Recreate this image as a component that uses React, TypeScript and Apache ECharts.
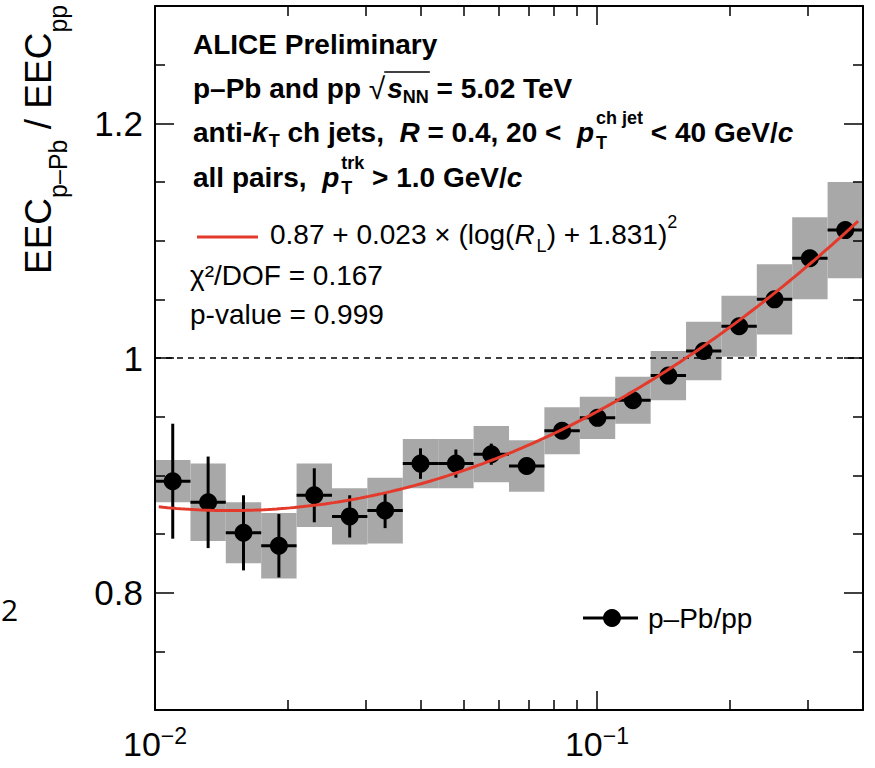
import React, { useEffect, useRef } from 'react';
import * as echarts from 'echarts';

// Bin edges in R_L (20 logarithmic bins from 0.01 to 0.4)
const binEdges = [
  0.01, 0.01203, 0.01446, 0.01739, 0.02091, 0.02515, 0.03024, 0.03637, 0.04373, 0.05259,
  0.06325, 0.07605, 0.09146, 0.11, 0.1323, 0.1591, 0.1913, 0.23, 0.2766, 0.3326, 0.4,
];
// EEC ratio p-Pb / pp per bin
const ratio = [
  0.895, 0.877, 0.851, 0.84, 0.883, 0.865, 0.87, 0.91, 0.91, 0.918,
  0.908, 0.938, 0.949, 0.964, 0.985, 1.006, 1.027, 1.05, 1.085, 1.109,
];
// statistical uncertainties (error bars)
const statErr = [
  0.049, 0.039, 0.032, 0.027, 0.023, 0.018, 0.015, 0.013, 0.012, 0.009,
  0.006, 0.005, 0.005, 0.005, 0.004, 0.004, 0.004, 0.004, 0.004, 0.004,
];
// systematic uncertainties (grey boxes)
const sysErr = [
  0.018, 0.033, 0.026, 0.028, 0.027, 0.024, 0.028, 0.021, 0.021, 0.024,
  0.022, 0.02, 0.018, 0.02, 0.021, 0.025, 0.026, 0.03, 0.035, 0.041,
];

// Fit parameters: 0.87 + 0.023 x (log(R_L) + 1.831)^2
const FIT_C0 = 0.87;
const FIT_C1 = 0.023;
const FIT_SHIFT = 1.831;
const fitRange = [0.0102, 0.39];

const xMajorTicks = [0.01, 0.1];
const xMinorTicks = [0.02, 0.03, 0.04, 0.05, 0.06, 0.07, 0.08, 0.09, 0.2, 0.3];
const yMajorTicks = [0.8, 1.0, 1.2];
const yMinorTicks = [0.75, 0.85, 0.9, 0.95, 1.05, 1.1, 1.15, 1.25];

const FONT = "'Liberation Sans', Arial, Helvetica, sans-serif";
const BOX_GREY = '#a8a8a8';
const FIT_RED = '#e43a2c';
const INK = '#000000';

// ln-based shift: log10 offset converted to natural log
const fitValue = (r: number) =>
  FIT_C0 + FIT_C1 * Math.pow(Math.log(r) + FIT_SHIFT * Math.LN10, 2);

let measureCtx: CanvasRenderingContext2D | null = null;
function textWidth(text: string, font: string): number {
  if (!measureCtx) measureCtx = document.createElement('canvas').getContext('2d');
  measureCtx!.font = font;
  return measureCtx!.measureText(text).width;
}

interface Seg {
  t: string;
  size: number;
  bold?: boolean;
  italic?: boolean;
  dy?: number;
  gap?: number;
  hold?: boolean; // next segment stacks on the same x position
}

function layoutRun(x0: number, y: number, segs: Seg[]) {
  const els: any[] = [];
  const spans: number[][] = [];
  let x = x0;
  let holdStart: number | null = null;
  let holdW = 0;
  for (const s of segs) {
    const font = `${s.italic ? 'italic ' : ''}${s.bold ? 'bold ' : ''}${s.size}px ${FONT}`;
    const w = textWidth(s.t, font);
    x += s.gap || 0;
    els.push({
      type: 'text',
      x,
      y: y + (s.dy || 0),
      silent: true,
      style: {
        text: s.t,
        fontSize: s.size,
        fontWeight: s.bold ? 'bold' : 'normal',
        fontStyle: s.italic ? 'italic' : 'normal',
        fontFamily: FONT,
        fill: INK,
        align: 'left',
        verticalAlign: 'middle',
      },
    });
    spans.push([x, x + w]);
    if (s.hold) {
      holdStart = x;
      holdW = w;
    } else if (holdStart !== null) {
      x = holdStart + Math.max(holdW, w);
      holdStart = null;
    } else {
      x += w;
    }
  }
  return { els, spans };
}

function buildGraphics() {
  const TX = 193;
  const B = 28;
  const S = 18;
  const line1 = layoutRun(TX, 44, [{ t: 'ALICE Preliminary', size: B, bold: true }]);
  const line2 = layoutRun(TX, 88, [
    { t: 'p–Pb and pp ', size: B, bold: true },
    { t: '√', size: 30 },
    { t: 's', size: B, bold: true, italic: true, gap: 2 },
    { t: 'NN', size: S, bold: true, dy: 9 },
    { t: ' = 5.02 TeV', size: B, bold: true },
  ]);
  const sq = line2.spans[1];
  const nn = line2.spans[3];
  const overbar = {
    type: 'line',
    silent: true,
    shape: { x1: sq[1] - 1, y1: 72, x2: nn[1] + 1, y2: 72 },
    style: { stroke: INK, lineWidth: 1.5 },
  };
  const line3 = layoutRun(TX, 132, [
    { t: 'anti-', size: B, bold: true },
    { t: 'k', size: B, bold: true, italic: true },
    { t: 'T', size: S, bold: true, dy: 9, gap: 1 },
    { t: ' ch jets,  ', size: B, bold: true },
    { t: 'R', size: B, bold: true, italic: true },
    { t: ' = 0.4, 20 <  ', size: B, bold: true },
    { t: 'p', size: B, bold: true, italic: true },
    { t: 'ch jet', size: S, bold: true, dy: -14, hold: true, gap: 2 },
    { t: 'T', size: S, bold: true, dy: 11 },
    { t: ' < 40 GeV/', size: B, bold: true },
    { t: 'c', size: B, bold: true, italic: true },
  ]);
  const line4 = layoutRun(TX, 177, [
    { t: 'all pairs,  ', size: B, bold: true },
    { t: 'p', size: B, bold: true, italic: true },
    { t: 'trk', size: S, bold: true, dy: -14, hold: true, gap: 2 },
    { t: 'T', size: S, bold: true, dy: 11 },
    { t: ' > 1.0 GeV/', size: B, bold: true },
    { t: 'c', size: B, bold: true, italic: true },
  ]);
  const formula = layoutRun(270, 234, [
    { t: '0.87 + 0.023 × (log(', size: B },
    { t: 'R', size: B, italic: true },
    { t: 'L', size: S, dy: 12, gap: 2 },
    { t: ') + 1.831)', size: B },
    { t: '2', size: S, dy: -12 },
  ]);
  const chi = layoutRun(190, 275, [{ t: 'χ²/DOF = 0.167', size: B }]);
  const pval = layoutRun(190, 314, [{ t: 'p-value = 0.999', size: B }]);

  // rotated y-axis title
  const title = layoutRun(0, 0, [
    { t: 'EEC', size: 37 },
    { t: 'p–Pb', size: 25, dy: 20 },
    { t: ' / EEC', size: 37 },
    { t: 'pp', size: 25, dy: 20 },
  ]);

  return [
    ...line1.els,
    ...line2.els,
    overbar,
    ...line3.els,
    ...line4.els,
    {
      type: 'line',
      silent: true,
      shape: { x1: 197, y1: 237, x2: 258, y2: 237 },
      style: { stroke: FIT_RED, lineWidth: 3 },
    },
    ...formula.els,
    ...chi.els,
    ...pval.els,
    {
      type: 'group',
      x: 38,
      y: 274,
      rotation: Math.PI / 2,
      children: title.els,
    },
    // legend entry for the data points
    {
      type: 'line',
      silent: true,
      shape: { x1: 583, y1: 618, x2: 638, y2: 618 },
      style: { stroke: INK, lineWidth: 3 },
    },
    {
      type: 'circle',
      silent: true,
      shape: { cx: 612, cy: 618, r: 9 },
      style: { fill: INK },
    },
    {
      type: 'text',
      silent: true,
      x: 648,
      y: 618,
      style: {
        text: 'p–Pb/pp',
        fontSize: 28,
        fontFamily: FONT,
        fill: INK,
        align: 'left',
        verticalAlign: 'middle',
      },
    },
    {
      type: 'text',
      silent: true,
      x: 1,
      y: 609,
      style: {
        text: '2',
        fontSize: 30,
        fontFamily: "'Open Sans', sans-serif",
        fill: INK,
        align: 'left',
        verticalAlign: 'middle',
      },
    },
  ];
}

function xAxisDef(position: 'top' | 'bottom', major: boolean, showLine: boolean, showLabels: boolean) {
  return {
    type: 'log',
    logBase: 10,
    min: 0.01,
    max: 0.4,
    position,
    z: 10,
    splitLine: { show: false },
    axisLine: { show: showLine, lineStyle: { color: INK, width: 2 } },
    axisTick: {
      show: true,
      inside: true,
      length: major ? 19 : 10,
      customValues: major ? xMajorTicks : xMinorTicks,
      lineStyle: { color: INK, width: 1.5 },
    },
    axisLabel: showLabels
      ? {
          show: true,
          customValues: xMajorTicks,
          margin: 14,
          formatter: (v: number) => `{b|10}{s|${v < 0.05 ? '−2' : '−1'}}`,
          rich: {
            b: { fontSize: 34, fontFamily: FONT, color: INK, lineHeight: 34, padding: [6, 0, 0, 0] },
            s: { fontSize: 23, fontFamily: FONT, color: INK, lineHeight: 23, verticalAlign: 'top' },
          },
        }
      : { show: false },
  };
}

function yAxisDef(position: 'left' | 'right', major: boolean, showLine: boolean, showLabels: boolean) {
  return {
    type: 'value',
    min: 0.7,
    max: 1.3,
    position,
    z: 10,
    splitLine: { show: false },
    axisLine: { show: showLine, lineStyle: { color: INK, width: 2 } },
    axisTick: {
      show: true,
      inside: true,
      length: major ? 19 : 10,
      customValues: major ? yMajorTicks : yMinorTicks,
      lineStyle: { color: INK, width: 1.5 },
    },
    axisLabel: showLabels
      ? {
          show: true,
          customValues: yMajorTicks,
          margin: 12,
          fontSize: 35,
          fontFamily: FONT,
          color: INK,
          formatter: (v: number) => String(Math.round(v * 10) / 10),
        }
      : { show: false },
  };
}

export default function App() {
  const ref = useRef<HTMLDivElement>(null);

  useEffect(() => {
    if (!ref.current) return;
    const chart = echarts.init(ref.current, undefined, { renderer: 'svg' });

    const bins = ratio.map((v, i) => [binEdges[i], binEdges[i + 1], v, statErr[i], sysErr[i]]);
    const centers = ratio.map((v, i) => [Math.sqrt(binEdges[i] * binEdges[i + 1]), v]);

    const nFit = 160;
    const l0 = Math.log10(fitRange[0]);
    const l1 = Math.log10(fitRange[1]);
    const fitCurve: number[][] = [];
    for (let k = 0; k <= nFit; k++) {
      const r = Math.pow(10, l0 + ((l1 - l0) * k) / nFit);
      fitCurve.push([r, fitValue(r)]);
    }

    const option: any = {
      animation: false,
      grid: { left: 155, top: 6, width: 708, height: 704, containLabel: false },
      xAxis: [
        xAxisDef('bottom', true, true, true),
        xAxisDef('bottom', false, false, false),
        xAxisDef('top', true, true, false),
        xAxisDef('top', false, false, false),
      ],
      yAxis: [
        yAxisDef('left', true, true, true),
        yAxisDef('left', false, false, false),
        yAxisDef('right', true, true, false),
        yAxisDef('right', false, false, false),
      ],
      series: [
        {
          type: 'custom',
          name: 'sys',
          data: bins,
          encode: { x: [0, 1], y: 2 },
          silent: true,
          renderItem: (_p: any, api: any) => {
            const lo = api.value(0);
            const hi = api.value(1);
            const y = api.value(2);
            const s = api.value(4);
            const a = api.coord([lo, y + s]);
            const b = api.coord([hi, y - s]);
            return {
              type: 'rect',
              shape: { x: a[0], y: a[1], width: b[0] - a[0], height: b[1] - a[1] },
              style: { fill: BOX_GREY },
            };
          },
        },
        {
          type: 'line',
          name: 'unity',
          data: [
            [0.01, 1],
            [0.4, 1],
          ],
          symbol: 'none',
          silent: true,
          lineStyle: { color: INK, width: 1.5, type: [6, 5] },
        },
        {
          type: 'custom',
          name: 'stat',
          data: bins,
          encode: { x: [0, 1], y: 2 },
          silent: true,
          renderItem: (_p: any, api: any) => {
            const lo = api.value(0);
            const hi = api.value(1);
            const y = api.value(2);
            const e = api.value(3);
            const c = Math.sqrt(lo * hi);
            const a = api.coord([lo, y]);
            const b = api.coord([hi, y]);
            const t = api.coord([c, y + e]);
            const u = api.coord([c, y - e]);
            return {
              type: 'group',
              children: [
                {
                  type: 'line',
                  shape: { x1: a[0], y1: a[1], x2: b[0], y2: b[1] },
                  style: { stroke: INK, lineWidth: 3 },
                },
                {
                  type: 'line',
                  shape: { x1: t[0], y1: t[1], x2: u[0], y2: u[1] },
                  style: { stroke: INK, lineWidth: 3 },
                },
              ],
            };
          },
        },
        {
          type: 'scatter',
          name: 'p–Pb/pp',
          data: centers,
          symbol: 'circle',
          symbolSize: 18,
          silent: true,
          itemStyle: { color: INK, opacity: 1 },
        },
        {
          type: 'line',
          name: 'fit',
          data: fitCurve,
          symbol: 'none',
          silent: true,
          lineStyle: { color: FIT_RED, width: 3 },
        },
      ],
      graphic: buildGraphics(),
    };

    chart.setOption(option);
    return () => chart.dispose();
  }, []);

  return (
    <div
      ref={ref}
      style={{ position: 'absolute', left: 0, top: 0, width: 875, height: 768, background: '#fff' }}
    />
  );
}
